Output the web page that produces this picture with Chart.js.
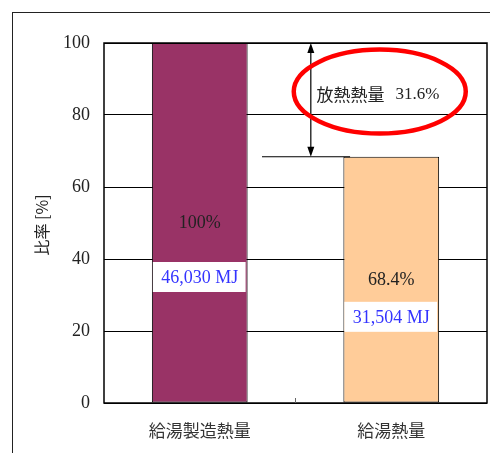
<!DOCTYPE html>
<html>
<head>
<meta charset="utf-8">
<script src="https://cdn.jsdelivr.net/npm/chart.js@4"></script>
<style>
  html, body { margin: 0; padding: 0; background: #fff; }
  #wrap { position: relative; width: 490px; height: 453px; overflow: hidden; }
  #frame { position: absolute; left: 12px; top: 12px; width: 600px; height: 600px;
           border-left: 1px solid #222; border-top: 1px solid #222; }
  #box { position: absolute; left: 0; top: 0; width: 490px; height: 453px; }
</style>
</head>
<body>
<div id="wrap">
  <div id="frame"></div>
  <div id="box"><canvas id="c"></canvas></div>
</div>
<script>
// Hot-water heat balance: produced heat vs. delivered heat
const categories = ['給湯製造熱量', '給湯熱量'];
const ratios = [100, 68.4];          // share of produced heat [%]
const energyMJ = [46030, 31504];     // absolute heat [MJ]
const yTicks = [0, 20, 40, 60, 80, 100];
const lossLabel = '放熱熱量';
const yTitle = '比率 [%]';

const barColors = ['#993366', '#FFCC99'];
const serif = '"Liberation Serif", "DejaVu Serif", serif';
const cjk = '"Noto Sans CJK JP", "Noto Sans", sans-serif';

const overlay = {
  id: 'overlay',
  afterDatasetsDraw(chart) {
    const ctx = chart.ctx;
    const a = chart.chartArea;
    const x = chart.scales.x, y = chart.scales.y;
    const meta = chart.getDatasetMeta(0);
    ctx.save();

    // value labels on the bars
    meta.data.forEach((bar, i) => {
      const v = ratios[i];
      const half = bar.width / 2;
      ctx.textAlign = 'center';
      ctx.textBaseline = 'middle';
      ctx.fillStyle = '#222';
      ctx.font = '18px ' + serif;
      ctx.fillText((v === 100 ? '100' : v.toFixed(1)) + '%', bar.x, y.getPixelForValue(v * 0.5));
      const cy = y.getPixelForValue(v * 0.35);
      ctx.fillStyle = '#fff';
      ctx.fillRect(bar.x - half + 1, cy - 15, bar.width - 3, 30);
      ctx.fillStyle = '#3333ff';
      ctx.font = '18px ' + serif;
      ctx.fillText(energyMJ[i].toLocaleString('en-US') + ' MJ', bar.x, cy + 1);
    });

    // plot frame
    ctx.strokeStyle = '#000';
    ctx.lineWidth = 1.5;
    ctx.strokeRect(a.left, a.top, a.right - a.left, a.bottom - a.top);

    // category boundary tick
    const mid = (x.getPixelForValue(0) + x.getPixelForValue(1)) / 2;
    ctx.lineWidth = 1;
    ctx.strokeStyle = '#666';
    ctx.beginPath();
    ctx.moveTo(mid, a.bottom);
    ctx.lineTo(mid, a.bottom - 5);
    ctx.stroke();

    // heat-loss dimension: leader line and double arrow
    const yTop = y.getPixelForValue(ratios[0]);
    const yLow = y.getPixelForValue(ratios[1]);
    const ax = x.getPixelForValue(0.58);
    ctx.strokeStyle = '#000';
    ctx.lineWidth = 1.2;
    ctx.beginPath();
    ctx.moveTo(x.getPixelForValue(0.325), yLow);
    ctx.lineTo(x.getPixelForValue(0.785), yLow);
    ctx.moveTo(ax, yTop + 6);
    ctx.lineTo(ax, yLow - 6);
    ctx.stroke();
    ctx.fillStyle = '#000';
    ctx.beginPath();
    ctx.moveTo(ax, yTop);
    ctx.lineTo(ax - 3.5, yTop + 10);
    ctx.lineTo(ax + 3.5, yTop + 10);
    ctx.closePath();
    ctx.moveTo(ax, yLow);
    ctx.lineTo(ax - 3.5, yLow - 10);
    ctx.lineTo(ax + 3.5, yLow - 10);
    ctx.closePath();
    ctx.fill();

    // loss label with red ellipse
    const ly = y.getPixelForValue(86.5);
    ctx.strokeStyle = '#ff0000';
    ctx.lineWidth = 4.5;
    ctx.beginPath();
    ctx.ellipse(x.getPixelForValue(0.94), ly, 86, 42, 0, 0, Math.PI * 2);
    ctx.stroke();
    ctx.textAlign = 'left';
    ctx.textBaseline = 'middle';
    ctx.fillStyle = '#222';
    ctx.font = '17px ' + cjk;
    const tx = x.getPixelForValue(0.61);
    ctx.fillText(lossLabel, tx, ly + 3);
    const w = ctx.measureText(lossLabel).width;
    ctx.font = '17px ' + serif;
    ctx.fillText((ratios[0] - ratios[1]).toFixed(1) + '%', tx + w + 11, ly + 3);

    // y-axis title
    ctx.translate(42, (a.top + a.bottom) / 2 + 2);
    ctx.rotate(-Math.PI / 2);
    ctx.textAlign = 'center';
    ctx.textBaseline = 'middle';
    ctx.fillStyle = '#222';
    ctx.font = '16px ' + cjk;
    ctx.fillText(yTitle, 0, 0);
    ctx.restore();
  }
};

new Chart(document.getElementById('c'), {
  type: 'bar',
  data: {
    labels: categories,
    datasets: [{
      data: ratios,
      backgroundColor: barColors,
      borderColor: '#000',
      borderWidth: 1,
      borderSkipped: false,
      barPercentage: 0.5,
      categoryPercentage: 1.0
    }]
  },
  options: {
    responsive: true,
    maintainAspectRatio: false,
    animation: false,
    devicePixelRatio: 1,
    layout: { padding: { left: 0, top: 43, right: 3, bottom: 0 } },
    plugins: { legend: { display: false }, tooltip: { enabled: false } },
    scales: {
      x: {
        grid: { display: false },
        border: { display: false },
        ticks: { color: '#333', font: { family: cjk, size: 17 }, padding: 9 },
        afterFit(s) { s.height = 50; }
      },
      y: {
        min: 0, max: 100,
        afterBuildTicks(s) { s.ticks = yTicks.map(v => ({ value: v })); },
        grid: { color: '#000', lineWidth: 1, drawTicks: false },
        border: { display: false },
        ticks: { color: '#222', font: { family: serif, size: 18 }, padding: 14 },
        afterFit(s) { s.width = 104; }
      }
    }
  },
  plugins: [overlay]
});
</script>
</body>
</html>
